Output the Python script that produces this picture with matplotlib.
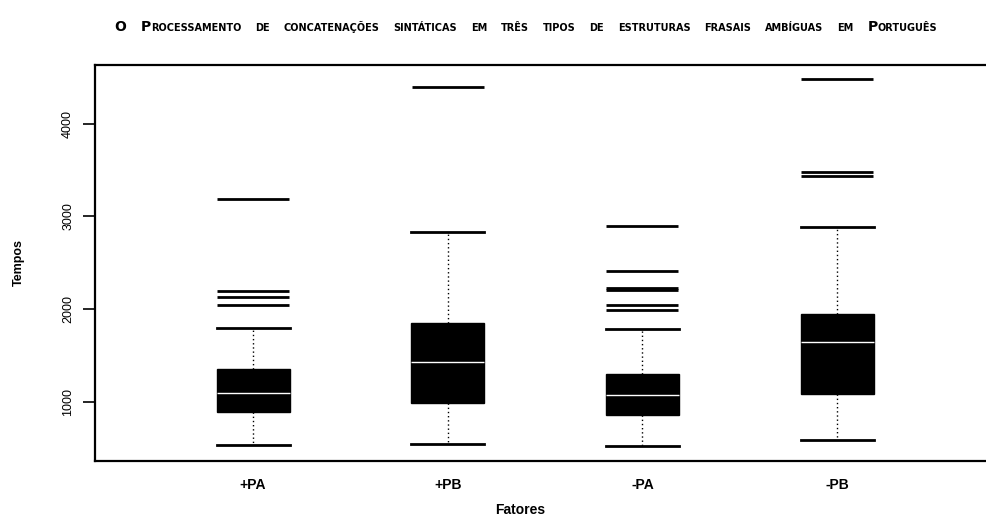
import matplotlib.pyplot as plt
from matplotlib.offsetbox import TextArea, HPacker, AnchoredOffsetbox

# Data
categories = ["+PA", "+PB", "-PA", "-PB"]
q1 = [886, 989, 857, 1083]
medians = [1090, 1425, 1072, 1641]
q3 = [1353, 1852, 1296, 1946]
whis_low = [533, 544, 525, 587]
whis_high = [1792, 2827, 1781, 2888]
outliers = [
    [2043, 2133, 2194, 3187],
    [4395],
    [1989, 2043, 2205, 2223, 2410, 2895],
    [3435, 3481, 4478],
]
yticks = [1000, 2000, 3000, 4000]
title_words = ["O", "Processamento", "de", "concatenações", "sintáticas", "em", "três",
               "tipos", "de", "estruturas", "frasais", "ambíguas", "em", "Português"]

font = "Liberation Sans"
plt.rcParams["font.family"] = [font, "DejaVu Sans"]

fig = plt.figure(figsize=(9.86, 5.17), dpi=100)
ax = fig.add_axes([95 / 986, 1 - 461 / 517, 1 - 95 / 986, (461 - 65) / 517])

stats = []
for i, name in enumerate(categories):
    stats.append({
        "label": name,
        "q1": q1[i], "med": medians[i], "q3": q3[i],
        "whislo": whis_low[i], "whishi": whis_high[i],
        "fliers": outliers[i],
    })

ax.bxp(stats, positions=[1, 2, 3, 4], widths=0.375, patch_artist=True,
       boxprops=dict(facecolor="black", edgecolor="black", linewidth=1),
       medianprops=dict(color="white", linewidth=1),
       whiskerprops=dict(color="black", linestyle=(0, (1, 2)), linewidth=1),
       capprops=dict(color="black", linewidth=2),
       capwidths=0.375,
       flierprops=dict(marker="_", markersize=52, markeredgewidth=2,
                       markeredgecolor="black", linestyle="none"))

ax.set_xlim(0.188, 4.765)
ax.set_ylim(360, 4632)
ax.set_yticks(yticks)
ax.set_yticklabels([str(v) for v in yticks], rotation=90, va="center", fontsize=9)
ax.tick_params(axis="y", direction="out", length=9, width=1.2, pad=6)
ax.tick_params(axis="x", length=0, pad=12, labelsize=10)
for lbl in ax.get_xticklabels():
    lbl.set_fontweight("bold")
ax.spines["right"].set_visible(False)
for s in ["left", "top", "bottom"]:
    ax.spines[s].set_linewidth(1.6)

ax.set_ylabel("Tempos", fontsize=9, fontweight="bold", labelpad=27)
ax.set_xlabel("Fatores", fontsize=10, fontweight="bold", labelpad=10)
ax.xaxis.set_label_coords((520 - 95) / (986 - 95), -0.105)

# Small-caps style title built from pieces
tfont = "DejaVu Sans"
pieces = []
for w in title_words:
    parts = []
    if w[0].isupper():
        parts.append(TextArea(w[0], textprops=dict(fontsize=10, fontweight="bold", family=tfont)))
        rest = w[1:]
    else:
        rest = w
    if rest:
        parts.append(TextArea(rest.upper(), textprops=dict(fontsize=7, fontweight="bold", family=tfont)))
    pieces.append(HPacker(children=parts, align="baseline", pad=0, sep=0))
title_box = HPacker(children=pieces, align="baseline", pad=0, sep=10)
anchored = AnchoredOffsetbox(loc="center", child=title_box, frameon=False,
                             bbox_to_anchor=(526 / 986, 1 - 27 / 517),
                             bbox_transform=fig.transFigure, borderpad=0, pad=0)
fig.add_artist(anchored)

fig.savefig("out.png", dpi=100)
